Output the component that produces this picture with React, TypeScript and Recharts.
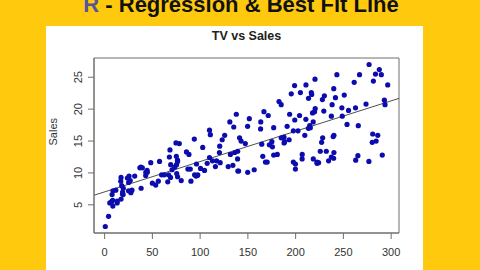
import React from "react";
import {
  ComposedChart,
  Scatter,
  Line,
  XAxis,
  YAxis,
  ReferenceArea,
} from "recharts";

// Advertising data: TV budget vs Sales
const tv = [
  230.1, 44.5, 17.2, 151.5, 180.8, 8.7, 57.5, 120.2, 8.6, 199.8,
  66.1, 214.7, 23.8, 97.5, 204.1, 195.4, 67.8, 281.4, 69.2, 147.3,
  218.4, 237.4, 13.2, 228.3, 62.3, 262.9, 142.9, 240.1, 248.8, 70.6,
  292.9, 112.9, 97.2, 265.6, 95.7, 290.7, 266.9, 74.7, 43.1, 228,
  202.5, 177, 293.6, 206.9, 25.1, 175.1, 89.7, 239.9, 227.2, 66.9,
  199.8, 100.4, 216.4, 182.6, 262.7, 198.9, 7.3, 136.2, 210.8, 210.7,
  53.5, 261.3, 239.3, 102.7, 131.1, 69, 31.5, 139.3, 237.4, 216.8,
  199.1, 109.8, 26.8, 129.4, 213.4, 16.9, 27.5, 120.5, 5.4, 116,
  76.4, 239.8, 75.3, 68.4, 213.5, 193.2, 76.3, 110.7, 88.3, 109.8,
  134.3, 28.6, 217.7, 250.9, 107.4, 163.3, 197.6, 184.9, 289.7, 135.2,
  222.4, 296.4, 280.2, 187.9, 238.2, 137.9, 25, 90.4, 13.1, 255.4,
  225.8, 241.7, 175.7, 209.6, 78.2, 75.1, 139.2, 76.4, 125.7, 19.4,
  141.3, 18.8, 224, 123.1, 229.5, 87.2, 7.8, 80.2, 220.3, 59.6,
  0.7, 265.2, 8.4, 219.8, 36.9, 48.3, 25.6, 273.7, 43, 184.9,
  73.4, 193.7, 220.5, 104.6, 96.2, 140.3, 240.1, 243.2, 38, 44.7,
  280.7, 121, 197.6, 171.3, 187.8, 4.1, 93.9, 149.8, 11.7, 131.7,
  172.5, 85.7, 188.4, 163.5, 117.2, 234.5, 17.9, 206.8, 215.4, 284.3,
  50, 164.5, 19.6, 168.4, 222.4, 276.9, 248.4, 170.2, 276.7, 165.6,
  156.6, 218.5, 56.2, 287.6, 253.8, 205, 139.5, 191.1, 286, 18.7,
  39.5, 75.5, 17.2, 166.8, 149.7, 38.2, 94.2, 177, 283.6, 232.1,
];

const sales = [
  22.1, 10.4, 9.3, 18.5, 12.9, 7.2, 11.8, 13.2, 4.8, 10.6,
  8.6, 17.4, 9.2, 9.7, 19, 22.4, 12.5, 24.4, 11.3, 14.6,
  18, 12.5, 5.6, 15.5, 9.7, 12, 15, 15.9, 18.9, 10.5,
  21.4, 11.9, 9.6, 17.4, 9.5, 12.8, 25.4, 14.7, 10.1, 21.5,
  16.6, 17.1, 20.7, 12.9, 8.5, 14.9, 10.6, 23.2, 14.8, 9.7,
  11.4, 10.7, 22.6, 21.2, 20.2, 23.7, 5.5, 13.2, 23.8, 18.4,
  8.1, 24.2, 15.7, 14, 18, 9.3, 9.5, 13.4, 18.9, 22.3,
  18.3, 12.4, 8.8, 11, 17, 8.7, 6.9, 14.2, 5.3, 11,
  11.8, 12.3, 11.3, 13.6, 21.7, 15.2, 12, 16, 12.9, 16.7,
  11.2, 7.3, 19.4, 22.2, 11.5, 16.9, 11.7, 15.5, 25.4, 17.2,
  11.7, 23.8, 14.8, 14.7, 20.7, 19.2, 7.2, 8.7, 5.3, 19.8,
  13.4, 21.8, 14.1, 15.9, 14.6, 12.6, 12.2, 9.4, 15.9, 6.6,
  15.5, 7, 11.6, 15.2, 19.7, 10.6, 6.6, 8.8, 24.7, 9.7,
  1.6, 12.7, 5.7, 19.6, 10.8, 11.6, 9.5, 20.8, 9.6, 20.7,
  10.9, 19.2, 20.1, 10.4, 11.4, 10.3, 13.2, 25.4, 10.9, 10.1,
  16.1, 11.6, 16.6, 19, 15.6, 3.2, 15.3, 10.1, 7.3, 12.9,
  14.4, 13.3, 14.9, 18, 11.9, 11.9, 8, 12.2, 17.1, 15,
  8.4, 14.5, 7.6, 11.7, 11.5, 27, 20.2, 11.7, 11.8, 12.6,
  10.5, 12.2, 8.7, 26.2, 17.6, 22.6, 10.3, 17.3, 15.9, 6.7,
  10.8, 9.9, 5.9, 19.6, 17.3, 7.6, 9.7, 12.8, 25.5, 13.4,
];

const xTicks = [0, 50, 100, 150, 200, 250, 300];
const yTicks = [5, 10, 15, 20, 25];

const points = tv.map((t, i) => ({ tv: t, sales: sales[i] }));

// R-style axis ranges (data range padded by 4%)
const pad = (arr: number[]): [number, number] => {
  const lo = Math.min(...arr);
  const hi = Math.max(...arr);
  const d = (hi - lo) * 0.04;
  return [lo - d, hi + d];
};
const xDom = pad(tv);
const yDom = pad(sales);

// least squares fit, like lm(Sales ~ TV)
const n = tv.length;
const mx = tv.reduce((a, b) => a + b, 0) / n;
const my = sales.reduce((a, b) => a + b, 0) / n;
let sxy = 0;
let sxx = 0;
tv.forEach((t, i) => {
  sxy += (t - mx) * (sales[i] - my);
  sxx += (t - mx) * (t - mx);
});
const slope = sxy / sxx;
const intercept = my - slope * mx;
const fitLine = xDom.map((x) => ({ tv: x, sales: intercept + slope * x }));

const AXIS = "#6e6e6e";
const FONT = "'Liberation Sans', Arial, sans-serif";

const YTick = (props: any) => {
  const { x, y, payload } = props;
  return (
    <text
      x={x - 4}
      y={y}
      transform={`rotate(-90, ${x - 4}, ${y})`}
      textAnchor="middle"
      fontSize={11}
      fontFamily={FONT}
      fill="#333"
    >
      {payload.value}
    </text>
  );
};

const Dot = (props: any) => (
  <circle cx={props.cx} cy={props.cy} r={2.6} fill="#0c0cae" />
);

export default function App() {
  return (
    <div
      style={{
        position: "absolute",
        left: 0,
        top: 0,
        width: 480,
        height: 270,
        background: "#ffc90e",
        overflow: "hidden",
        fontFamily: FONT,
      }}
    >
      <div
        style={{
          position: "absolute",
          left: 0,
          top: -6,
          width: 482,
          textAlign: "center",
          fontSize: 22,
          lineHeight: "22px",
          fontWeight: "bold",
          color: "#111",
          whiteSpace: "nowrap",
        }}
      >
        <span style={{ color: "#55559a" }}>R</span> - Regression &amp; Best Fit Line
      </div>
      <div
        style={{
          position: "absolute",
          left: 46,
          top: 26,
          width: 377,
          height: 260,
          background: "#fff",
        }}
      />
      <div
        style={{
          position: "absolute",
          left: 94,
          top: 26,
          width: 305,
          textAlign: "center",
          fontSize: 12.5,
          lineHeight: "16px",
          fontWeight: "bold",
          color: "#222",
          paddingTop: 2,
        }}
      >
        TV vs Sales
      </div>
      <div style={{ position: "absolute", left: 0, top: 0 }}>
        <ComposedChart
          width={480}
          height={270}
          margin={{ top: 58, right: 81, bottom: 7, left: 44 }}
        >
          <XAxis
            dataKey="tv"
            type="number"
            domain={xDom}
            ticks={xTicks}
            allowDataOverflow
            height={30}
            stroke={AXIS}
            tickSize={6}
            tickMargin={9}
            tick={{ fontSize: 11, fontFamily: FONT, fill: "#333" }}
          />
          <YAxis
            dataKey="sales"
            type="number"
            domain={yDom}
            ticks={yTicks}
            allowDataOverflow
            width={50}
            stroke={AXIS}
            tickSize={6}
            tick={<YTick />}
            label={{
              value: "Sales",
              angle: -90,
              position: "insideLeft",
              offset: 9,
              fontSize: 11,
              fontFamily: FONT,
              fill: "#333",
            }}
          />
          <ReferenceArea
            x1={xDom[0]}
            x2={xDom[1]}
            y1={yDom[0]}
            y2={yDom[1]}
            fill="none"
            stroke={AXIS}
            strokeWidth={1}
          />
          <Scatter
            data={points}
            dataKey="sales"
            shape={<Dot />}
            isAnimationActive={false}
          />
          <Line
            data={fitLine}
            dataKey="sales"
            stroke="#222"
            strokeWidth={0.8}
            dot={false}
            activeDot={false}
            isAnimationActive={false}
          />
        </ComposedChart>
      </div>
    </div>
  );
}
